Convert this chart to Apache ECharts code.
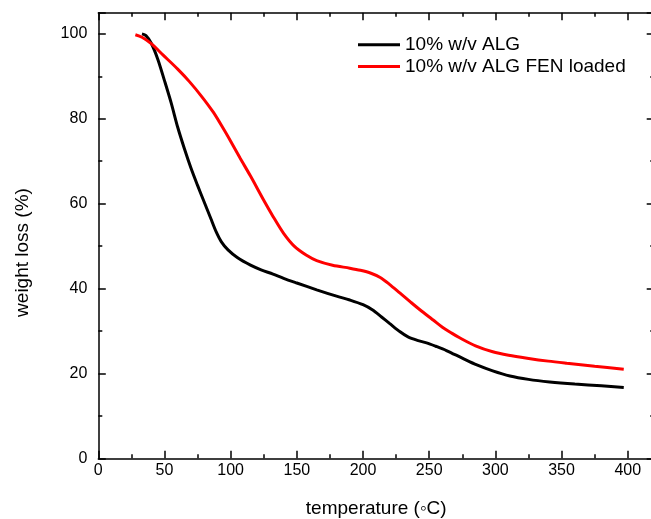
<!DOCTYPE html>
<html>
<head>
<meta charset="utf-8">
<script src="https://cdn.jsdelivr.net/npm/echarts@6/dist/echarts.min.js"></script>
<style>html,body{margin:0;padding:0;background:#fff}#c{width:651px;height:519px}</style>
</head>
<body>
<div id="c"></div>
<script>
var seriesNames = ['10% w/v ALG', '10% w/v ALG FEN loaded'];
var xTicks = [0, 50, 100, 150, 200, 250, 300, 350, 400];
var yTicks = [0, 20, 40, 60, 80, 100];
var algData = [[33,100],[36,99.6],[40,97.8],[45,94],[50,89],[55,83.8],[60,78],[65,73],[70,68.4],[75,64.3],[80,60.4],[85,56.5],[89,53.4],[93,51],[98,49.1],[105,47.3],[115,45.5],[123,44.4],[132,43.4],[140,42.4],[150,41.3],[165,39.7],[180,38.2],[190,37.3],[200,36.2],[207,35],[214,33.3],[220,31.8],[228,29.8],[234,28.6],[241,27.8],[248,27.2],[255,26.4],[263,25.4],[275,23.6],[286,22],[298,20.6],[311,19.4],[325,18.6],[341,18],[360,17.5],[380,17.1],[397,16.7]];
var fenData = [[28,99.8],[33,99.2],[40,97.7],[49,95],[60,91.7],[69,88.7],[78,85.3],[87,81.5],[95,77.4],[100,74.7],[107,70.8],[115,66.5],[125,60.8],[132,57],[140,53],[148,50],[157,47.9],[165,46.6],[177,45.5],[190,44.8],[198,44.3],[206,43.6],[213,42.6],[220,41],[228,38.9],[236,36.8],[243,35],[250,33.3],[253,32.6],[260,30.9],[267,29.5],[273,28.4],[285,26.5],[298,25.1],[310,24.3],[324,23.6],[340,22.9],[354,22.4],[375,21.7],[397,21]];

var XMIN = 0, XMAX = 420, YMIN = 0, YMAX = 105;
var FONT = 'Liberation Sans, Arial, sans-serif';
var lineStyle = {color: '#000', width: 1.5};

function xAxisDef(pos, major, withLabel) {
  return {
    type: 'value', position: pos, min: XMIN, max: XMAX, interval: major ? 50 : 25,
    axisLine: {show: major, onZero: false, lineStyle: lineStyle},
    axisTick: {show: true, inside: true, length: major ? 7.5 : 4, lineStyle: lineStyle},
    axisLabel: {show: withLabel, margin: 4, color: '#000', fontSize: 16, fontFamily: FONT,
      formatter: function (v) { return xTicks.indexOf(v) >= 0 ? String(v) : ''; }},
    splitLine: {show: false},
    name: withLabel ? 'temperature (\u25E6C)' : '', nameLocation: 'middle', nameGap: 41,
    nameTextStyle: {color: '#000', fontSize: 19, fontFamily: FONT}
  };
}
function yAxisDef(pos, major, withLabel) {
  return {
    type: 'value', position: pos, min: YMIN, max: YMAX, interval: major ? 20 : 10,
    axisLine: {show: major, onZero: false, lineStyle: lineStyle},
    axisTick: {show: true, inside: true, length: major ? 7.5 : 4, lineStyle: lineStyle},
    axisLabel: {show: withLabel, margin: 11, color: '#000', fontSize: 16, fontFamily: FONT,
      formatter: function (v) { return yTicks.indexOf(v) >= 0 ? String(v) : ''; }},
    splitLine: {show: false},
    name: withLabel ? 'weight loss (%)' : '', nameLocation: 'middle', nameGap: 66,
    nameTextStyle: {color: '#000', fontSize: 19, fontFamily: FONT, padding: [0, 34, 0, 0]}
  };
}

var chart = echarts.init(document.getElementById('c'), null, {renderer: 'canvas'});
chart.setOption({
  animation: false,
  backgroundColor: '#fff',
  grid: {left: 98.3, right: -3.2, top: 12.7, bottom: 60.7, containLabel: false, outerBoundsMode: 'none'},
  legend: {
    orient: 'vertical', left: 353, top: 29, itemWidth: 42, itemHeight: 3, itemGap: 0,
    icon: 'rect',
    textStyle: {color: '#000', fontSize: 19, fontFamily: FONT, lineHeight: 21.6},
    data: seriesNames
  },
  xAxis: [xAxisDef('bottom', true, true), xAxisDef('bottom', false, false),
          xAxisDef('top', true, false), xAxisDef('top', false, false)],
  yAxis: [yAxisDef('left', true, true), yAxisDef('left', false, false),
          yAxisDef('right', true, false), yAxisDef('right', false, false)],
  series: [
    {name: seriesNames[0], type: 'line', data: algData, smooth: 0.3, showSymbol: false,
     symbol: 'none', lineStyle: {color: '#000', width: 3}, itemStyle: {color: '#000'}},
    {name: seriesNames[1], type: 'line', data: fenData, smooth: 0.3, showSymbol: false,
     symbol: 'none', lineStyle: {color: '#ff0000', width: 3}, itemStyle: {color: '#ff0000'}}
  ]
});
</script>
</body>
</html>
